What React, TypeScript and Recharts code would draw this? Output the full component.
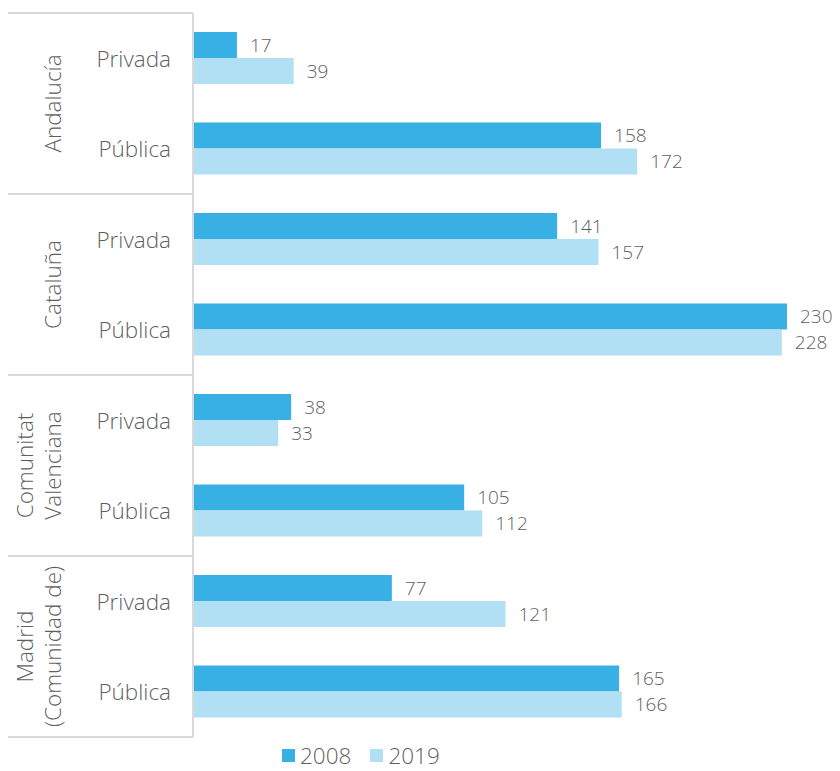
import { BarChart, Bar, XAxis, YAxis, Legend, LabelList } from 'recharts'

const regions = [
  'Andalucía', 'Andalucía',
  'Cataluña', 'Cataluña',
  'Comunitat Valenciana', 'Comunitat Valenciana',
  'Madrid (Comunidad de)', 'Madrid (Comunidad de)',
]
const types = ['Privada', 'Pública', 'Privada', 'Pública', 'Privada', 'Pública', 'Privada', 'Pública']
const values2008 = [17, 158, 141, 230, 38, 105, 77, 165]
const values2019 = [39, 172, 157, 228, 33, 112, 121, 166]

// how the region names break over lines in the rotated labels
const regionLines: Record<string, string[]> = {
  'Andalucía': ['Andalucía'],
  'Cataluña': ['Cataluña'],
  'Comunitat Valenciana': ['Comunitat', 'Valenciana'],
  'Madrid (Comunidad de)': ['Madrid', '(Comunidad de)'],
}

const data = regions.map((r, i) => ({
  key: `${r} ${types[i]}`,
  region: r,
  type: types[i],
  y2008: values2008[i],
  y2019: values2019[i],
}))

const FONT = '"Open Sans", sans-serif'
const TEXT = '#5f5f5f'
const GRID = '#d9d9d9'
const C2008 = '#38b0e4'
const C2019 = '#b1dff3'
const AXIS_W = 185

function RowTick(props: any) {
  const { y, index, payload } = props
  const band = payload && payload.offset ? payload.offset * 2 : 90.5
  const first = index === 0 || regions[index] !== regions[index - 1]
  const last = index === regions.length - 1
  const lines = regionLines[regions[index]] || [regions[index]]
  const cy = y + band / 2
  const xs = lines.length === 1 ? [44] : [16, 44]
  return (
    <g>
      <text x={163} y={y} textAnchor="end" dominantBaseline="central"
        fontFamily={FONT} fontWeight={300} fontSize={22.5} fill={TEXT}>
        {types[index]}
      </text>
      {first && (
        <>
          <line x1={0} x2={AXIS_W} y1={y - band / 2} y2={y - band / 2} stroke={GRID} strokeWidth={2} />
          {lines.map((l, k) => (
            <text key={l} x={xs[k]} y={cy} transform={`rotate(-90, ${xs[k]}, ${cy})`}
              textAnchor="middle" dominantBaseline="central"
              fontFamily={FONT} fontWeight={300} fontSize={22.5} fill={TEXT}>
              {l}
            </text>
          ))}
        </>
      )}
      {last && <line x1={0} x2={AXIS_W} y1={y + band / 2} y2={y + band / 2} stroke={GRID} strokeWidth={2} />}
    </g>
  )
}

function LegendRow(props: any) {
  const items = props.payload || []
  return (
    <div style={{ position: 'relative', width: 832, height: 34 }}>
      <div style={{ position: 'absolute', left: 274, top: 7, height: 23, display: 'flex', alignItems: 'center' }}>
        {items.map((it: any) => (
          <div key={it.value} style={{ display: 'flex', alignItems: 'center', marginRight: 19 }}>
            <span style={{ width: 13, height: 13, background: it.color, display: 'inline-block', marginRight: 5 }} />
            <span style={{ fontFamily: FONT, fontWeight: 300, fontSize: 22.5, color: TEXT, lineHeight: '23px' }}>
              {it.value}
            </span>
          </div>
        ))}
      </div>
    </div>
  )
}

export default function App() {
  return (
    <BarChart width={832} height={763} data={data} layout="vertical"
      margin={{ top: 5, right: 53, bottom: 0, left: 0 }}
      barCategoryGap={0} barGap={0} barSize={26}>
      <XAxis type="number" domain={[0, 230]} hide />
      <YAxis type="category" dataKey="key" width={AXIS_W} interval={0}
        axisLine={{ stroke: GRID, strokeWidth: 2 }} tickLine={false} tick={<RowTick />} />
      <Legend verticalAlign="bottom" content={<LegendRow />} wrapperStyle={{ left: 0 }} />
      <Bar dataKey="y2008" name="2008" fill={C2008} isAnimationActive={false}>
        <LabelList dataKey="y2008" position="right" offset={13} fill={TEXT}
          fontFamily={FONT} fontWeight={300} fontSize={19} />
      </Bar>
      <Bar dataKey="y2019" name="2019" fill={C2019} isAnimationActive={false}>
        <LabelList dataKey="y2019" position="right" offset={13} fill={TEXT}
          fontFamily={FONT} fontWeight={300} fontSize={19} />
      </Bar>
    </BarChart>
  )
}
